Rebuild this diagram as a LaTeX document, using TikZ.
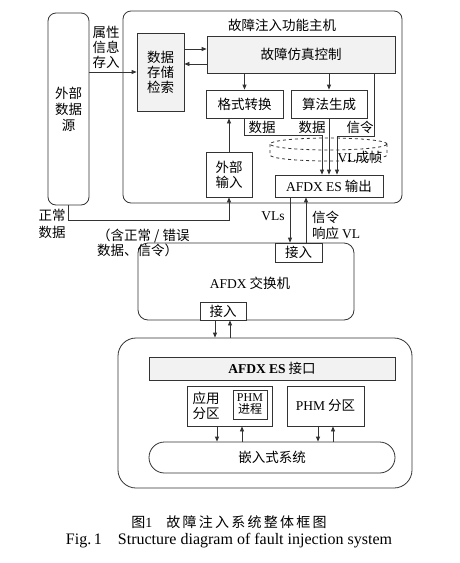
\documentclass[tikz,border=0pt]{standalone}
\usepackage{fontspec}
\setmainfont{Liberation Serif}
\newfontfamily\cjk{Noto Sans CJK SC}
\usetikzlibrary{arrows.meta}
\newcommand{\en}[1]{{\rmfamily #1}}

\begin{document}
\begin{tikzpicture}[x=1pt, y=-1pt,
	every node/.style={font=\cjk\fontsize{13.5}{15}\selectfont, inner sep=0pt},
	box/.style={draw=black!80, line width=0.8pt, fill=white},
	graybox/.style={box, fill=gray!10},
	frame/.style={box, rounded corners=8pt},
	link/.style={draw=black!80, line width=0.8pt},
	arr/.style={link, -{Triangle[length=5pt, width=4pt]}}]
	\useasboundingbox (0,0) rectangle (459,563);
	% The outer frames
	\node[frame, minimum width=41pt, minimum height=192pt, align=center, font=\cjk\fontsize{13.5}{16}\selectfont] (src) at (68.5,109) {外部\\数据\\源};
	\node[frame, minimum width=279pt, minimum height=192pt] (host) at (262.5,107) {};
	\node (hostlbl) at (282,25) {故障注入功能主机};
	% Inside the host
	\node[graybox, minimum width=47pt, minimum height=78pt, align=center] (stor) at (160.5,72) {数据\\存储\\检索};
	\node[graybox, minimum width=188pt, minimum height=37pt] (ctrl) at (301,54.5) {故障仿真控制};
	\node[box, minimum width=77pt, minimum height=28pt] (fmt) at (244.5,104) {格式转换};
	\node[box, minimum width=76pt, minimum height=28pt] (alg) at (329,104) {算法生成};
	\node[box, minimum width=46pt, minimum height=45pt, align=center] (extin) at (229,174.5) {外部\\输入};
	\node[box, minimum width=108pt, minimum height=22pt] (esout) at (329,186) {\en{AFDX ES} 输出};
	% VL framing, dashed drum
	\draw[link, dashed] (328.5,144) ellipse [x radius=58.5pt, y radius=6pt];
	\draw[link, dashed] (270,144) -- (270,155) arc [start angle=180, end angle=360, x radius=58.5pt, y radius=6pt] -- (387,144);
	\node (vllbl) at (360,157) {\en{VL}成帧};
	% Switch
	\node[frame, rounded corners=10pt, minimum width=216pt, minimum height=77pt] (sw) at (246,281.5) {};
	\node (swlbl) at (250,283) {\en{AFDX} 交换机};
	\node[box, minimum width=47pt, minimum height=19pt] (swin1) at (298.5,252.5) {接入};
	\node[box, minimum width=46pt, minimum height=18pt] (swin2) at (223,311) {接入};
	% Embedded side
	\node[frame, rounded corners=18pt, minimum width=294pt, minimum height=150pt] (emb) at (265,413) {};
	\node[graybox, minimum width=246pt, minimum height=23pt] (esif) at (272,368.5) {\en{\bfseries AFDX ES} 接口};
	\node[box, minimum width=85pt, minimum height=40pt] (app) at (229.5,406) {};
	\node[align=center] (applbl) at (206,406) {应用\\分区};
	\node[box, minimum width=34pt, minimum height=29pt] (phmp) at (250,404.5) {};
	\node[align=center, font=\cjk\fontsize{12}{13}\selectfont] (phmlbl) at (250,404) {\en{PHM}\\[-1pt]进程};
	\node[box, minimum width=77pt, minimum height=40pt] (phm) at (325.5,406) {\en{PHM} 分区};
	\node[box, rounded corners=15.5pt, minimum width=246pt, minimum height=31pt] (os) at (272,457.5) {嵌入式系统};
	% Connectors in the host
	\draw[arr] (src.east |- 0,72) -- (stor.west |- 0,72);
	\draw[arr] (stor.east |- 0,49) -- (ctrl.west |- 0,49);
	\draw[arr] (ctrl.west |- 0,64) -- (stor.east |- 0,64);
	\draw[arr] (ctrl.south -| fmt.north) -- (fmt.north);
	\draw[arr] (ctrl.south -| alg.north) -- (alg.north);
	\draw[arr] (fmt.south) |- (322,135) -- (esout.north -| 322,0);
	\draw[arr] (alg.south) -- (esout.north -| alg.south);
	\draw[arr] (ctrl.south -| 374,0) |- (337,136) -- (esout.north -| 337,0);
	\draw[arr] (extin.north) -- (extin.north |- fmt.south);
	\draw[arr] (src.south) |- (extin.south |- 0,220) -- (extin.south);
	% Host to switch
	\draw[arr] (esout.south -| 290,0) -- (swin1.north -| 290,0);
	\draw[arr] (swin1.north -| 306,0) -- (esout.south -| 306,0);
	% Switch to embedded side
	\draw[arr] (swin2.south -| 215,0) -- (emb.north -| 215,0);
	\draw[arr] (emb.north -| 230,0) -- (swin2.south -| 230,0);
	\draw[arr] (app.south -| 217,0) -- (os.north -| 217,0);
	\draw[arr] (os.north -| 242,0) -- (app.south -| 242,0);
	\draw[arr] (phm.south -| 318,0) -- (os.north -| 318,0);
	\draw[arr] (os.north -| 333,0) -- (phm.south -| 333,0);
	% Labels
	\node[align=center] (attr) at (106,47) {属性\\信息\\存入};
	\node (dat1) at (262,127) {数据};
	\node (dat2) at (312,127) {数据};
	\node (sig) at (360,127) {信令};
	\node[align=center, font=\cjk\fontsize{13.5}{17}\selectfont] (norm) at (52,224) {正常\\数据};
	\node (vls) at (273,216) {\en{VLs}};
	\node[anchor=west, align=left, font=\cjk\fontsize{13.5}{16}\selectfont] (resp) at (312,225) {信令\\响应 \en{VL}};
	\node[anchor=west, align=left] (mixed) at (97,242.5) {（含正常 / 错误\\数据、信令）};
	% Caption
	\node[font=\cjk\fontsize{14}{16}\selectfont\addfontfeature{LetterSpace=16}] (cap) at (229,522) {图\en{1}\hspace{1em}故障注入系统整体框图};
	\node[font=\rmfamily\fontsize{16}{18}\selectfont] (capen) at (229,541) {Fig.\,1\hspace{1em}Structure diagram of fault injection system};
\end{tikzpicture}
\end{document}
